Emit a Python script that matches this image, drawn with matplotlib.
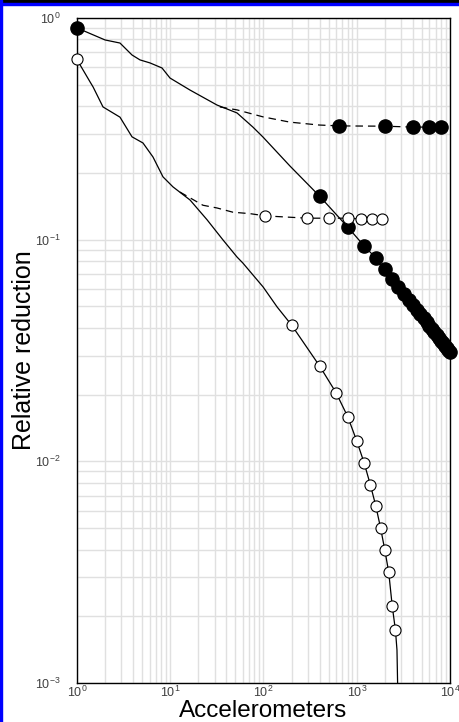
import matplotlib
matplotlib.use("Agg")
import matplotlib.pyplot as plt
from matplotlib.patches import Rectangle

plt.rcParams['font.family'] = ['Liberation Sans', 'DejaVu Sans']
plt.rcParams['mathtext.fontset'] = 'custom'
plt.rcParams['mathtext.rm'] = 'Liberation Sans'
plt.rcParams['mathtext.default'] = 'regular'

# full set, solid line (filled markers)
full_path_x = [1, 1.19, 2.0, 2.89, 3.89, 4.74, 6.07, 8.16, 9.94, 16.3, 31.7, 52, 77, 99, 192]
full_path_y = [0.90, 0.874, 0.796, 0.771, 0.681, 0.647, 0.627, 0.595, 0.536, 0.473, 0.405, 0.373, 0.322, 0.290, 0.215]
full_mark_x = [1, 400, 800, 1200, 1600, 2000, 2400, 2800, 3200, 3600, 4000, 4400, 4800,
               5200, 5600, 6000, 6400, 6800, 7200, 7600, 8000, 8400, 8800, 9200, 9600, 10000]
full_mark_y = [0.90, 0.157, 0.114, 0.0937, 0.0827, 0.0734, 0.0666, 0.0613, 0.0571, 0.0536, 0.0507,
               0.0482, 0.0460, 0.0441, 0.0424, 0.0408, 0.0394, 0.0382, 0.0370, 0.0360, 0.0350,
               0.0341, 0.0333, 0.0325, 0.0318, 0.0311]

# full set, dashed branch
full_dash_x = [34, 52, 99, 192, 394]
full_dash_y = [0.397, 0.385, 0.358, 0.339, 0.329]
full_dmark_x = [650, 2000, 4000, 6000, 8000]
full_dmark_y = [0.326, 0.325, 0.322, 0.322, 0.322]

# reduced set, solid line (open markers)
red_path_x = [1, 1.08, 1.38, 1.49, 1.90, 2.89, 3.89, 5.10, 6.53, 8.36, 10.7, 16.3, 24.8, 36.8, 52, 60, 99, 140]
red_path_y = [0.65, 0.614, 0.515, 0.488, 0.397, 0.357, 0.291, 0.273, 0.236, 0.192, 0.173, 0.151,
              0.123, 0.0997, 0.0835, 0.0785, 0.0612, 0.0497]
red_mark_x = [1, 200, 400, 600, 800, 1000, 1200, 1400, 1600, 1800, 2000, 2200, 2400, 2600]
red_mark_y = [0.65, 0.0412, 0.0269, 0.0204, 0.0159, 0.01236, 0.00984, 0.00783, 0.00630,
              0.00501, 0.00398, 0.00317, 0.00223, 0.00173]
red_tail_x = [2700, 2770]
red_tail_y = [0.00141, 0.0008]

# reduced set, dashed branch
red_dash_x = [12.7, 22.4, 31.7, 47, 72]
red_dash_y = [0.164, 0.143, 0.139, 0.133, 0.131]
red_dmark_x = [105, 295, 505, 800, 1110, 1460, 1870]
red_dmark_y = [0.128, 0.125, 0.125, 0.125, 0.124, 0.124, 0.124]

fig = plt.figure(figsize=(4.6, 7.22), dpi=100)
ax = fig.add_axes([77 / 460, 1 - 683 / 722, 373 / 460, 665 / 722])

lw = 0.9
dash = (0, (6, 4))

# solid curves
ax.plot(full_path_x + full_mark_x[1:], full_path_y + full_mark_y[1:], color='black', lw=lw, zorder=3)
ax.plot(red_path_x + red_mark_x[1:] + red_tail_x, red_path_y + red_mark_y[1:] + red_tail_y,
        color='black', lw=lw, zorder=3)

# dashed curves
ax.plot(full_dash_x + full_dmark_x, full_dash_y + full_dmark_y, color='black', lw=lw, ls=dash, zorder=3)
ax.plot(red_dash_x + red_dmark_x, red_dash_y + red_dmark_y, color='black', lw=lw, ls=dash, zorder=3)

# markers
ax.plot(full_mark_x, full_mark_y, 'o', color='black', ms=9.5, zorder=4, clip_on=False)
ax.plot(full_dmark_x, full_dmark_y, 'o', color='black', ms=9.5, zorder=4)
ax.plot(red_mark_x, red_mark_y, 'o', mfc='white', mec='black', mew=0.8, ms=8, zorder=4, clip_on=False)
ax.plot(red_dmark_x, red_dmark_y, 'o', mfc='white', mec='black', mew=0.8, ms=8, zorder=4)

ax.set_xscale('log')
ax.set_yscale('log')
ax.set_xlim(1, 1e4)
ax.set_ylim(1e-3, 1)

ax.grid(True, which='both', color='#e0e0e0', lw=1.0, zorder=0)
ax.set_axisbelow(True)
ax.tick_params(which='both', length=0, labelsize=9, labelcolor='#404040')
ax.tick_params(axis='x', pad=1)
ax.tick_params(axis='y', pad=12)
for s in ax.spines.values():
    s.set_color('black')
    s.set_linewidth(1.0)

ax.set_xlabel('Accelerometers', fontsize=17.5, labelpad=0)
ax.set_ylabel('Relative reduction', fontsize=18, labelpad=-1)

# screenshot frame (top bar and left edge)
fig.patches.append(Rectangle((0, 1 - 3 / 722), 1, 3 / 722, transform=fig.transFigure,
                             color='black', zorder=10))
fig.patches.append(Rectangle((0, 1 - 5 / 722), 1, 2 / 722, transform=fig.transFigure,
                             color='#0000ff', zorder=10))
fig.patches.append(Rectangle((0, 0), 2 / 460, 1, transform=fig.transFigure,
                             color='#0000ff', zorder=10))

fig.savefig('out.png', dpi=100)
